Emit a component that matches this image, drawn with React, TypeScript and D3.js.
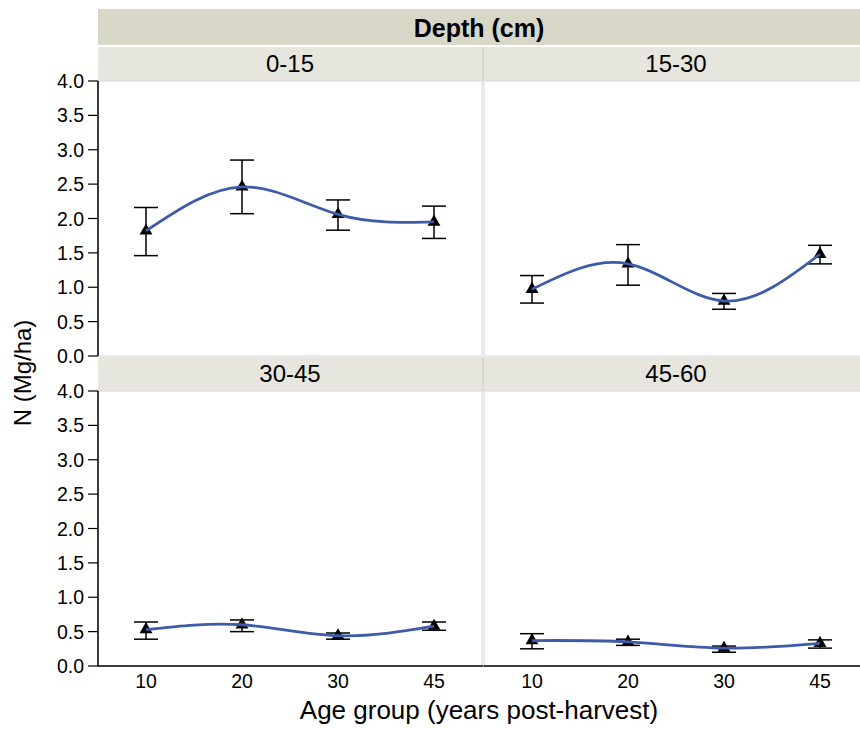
import React from 'react';
import * as d3 from 'd3';

// Age groups (years post-harvest) on the x axis
const ageGroups = ['10', '20', '30', '45'];
// Soil depth layers, one facet each
const depthLayers = ['0-15', '15-30', '30-45', '45-60'];

// Mean soil N (Mg/ha) per depth layer, by age group
const meanN_0_15 = [1.82, 2.46, 2.06, 1.95];
const meanN_15_30 = [0.97, 1.34, 0.8, 1.48];
const meanN_30_45 = [0.53, 0.6, 0.44, 0.58];
const meanN_45_60 = [0.37, 0.35, 0.26, 0.33];

// Lower / upper error bar limits
const lowN_0_15 = [1.46, 2.07, 1.83, 1.71];
const highN_0_15 = [2.16, 2.85, 2.27, 2.18];
const lowN_15_30 = [0.77, 1.03, 0.68, 1.34];
const highN_15_30 = [1.17, 1.62, 0.91, 1.61];
const lowN_30_45 = [0.39, 0.5, 0.39, 0.52];
const highN_30_45 = [0.64, 0.67, 0.48, 0.64];
const lowN_45_60 = [0.25, 0.3, 0.2, 0.26];
const highN_45_60 = [0.47, 0.39, 0.29, 0.38];

const yTicks = [0, 0.5, 1, 1.5, 2, 2.5, 3, 3.5, 4];

const meanSets = [meanN_0_15, meanN_15_30, meanN_30_45, meanN_45_60];
const lowSets = [lowN_0_15, lowN_15_30, lowN_30_45, lowN_45_60];
const highSets = [highN_0_15, highN_15_30, highN_30_45, highN_45_60];

const W = 860;
const H = 729;
const FONT = '"Liberation Sans", Arial, Helvetica, sans-serif';

const axisX = 98;
const colW = 384;
const colGap = 2;
const headerTop = 9;
const headerH = 36;
const stripH = 33;
const rowTops = [47, 357];
const plotH = 275;

const HEADER_FILL = '#d9d7c8';
const STRIP_FILL = '#e7e6de';
const STRIP_DIVIDER = '#d8d8cc';
const FRAME = '#dcdcdc';
const LINE = '#3d5ba8';

function Panel({ index }: { index: number }) {
  const col = index % 2;
  const row = Math.floor(index / 2);
  const x0 = axisX + col * (colW + colGap);
  const stripTop = rowTops[row];
  const plotTop = stripTop + stripH + 1;
  const plotBottom = plotTop + plotH;

  const x = d3.scalePoint<string>().domain(ageGroups).range([x0, x0 + colW]).padding(0.5);
  const y = d3.scaleLinear().domain([0, 4]).range([plotBottom, plotTop]);

  const means = meanSets[index];
  const lows = lowSets[index];
  const highs = highSets[index];
  const pts = ageGroups.map((g, i) => ({ g, m: means[i], lo: lows[i], hi: highs[i] }));

  const line = d3
    .line<{ g: string; m: number }>()
    .x((d) => x(d.g)!)
    .y((d) => y(d.m))
    .curve(d3.curveNatural);

  const tri = d3.symbol().type(d3.symbolTriangle).size(72)();
  const capHalf = 12;

  return (
    <g>
      <text x={x0 + colW / 2} y={stripTop + 25} textAnchor="middle" fontSize={24} fill="#000">
        {depthLayers[index]}
      </text>
      <rect x={x0} y={plotTop} width={colW} height={plotH} fill="#fff" stroke={FRAME} strokeWidth={1.2} />
      {pts.map((d) => (
        <g key={d.g} stroke="#000" strokeWidth={1.5}>
          <line x1={x(d.g)} x2={x(d.g)} y1={y(d.lo)} y2={y(d.hi)} />
          <line x1={x(d.g)! - capHalf} x2={x(d.g)! + capHalf} y1={y(d.lo)} y2={y(d.lo)} />
          <line x1={x(d.g)! - capHalf} x2={x(d.g)! + capHalf} y1={y(d.hi)} y2={y(d.hi)} />
        </g>
      ))}
      {pts.map((d) => (
        <path key={'m' + d.g} d={tri!} transform={`translate(${x(d.g)},${y(d.m)})`} fill="#000" />
      ))}
      <path d={line(pts)!} fill="none" stroke={LINE} strokeWidth={2.8} />
      {col === 0 && (
        <g>
          <line x1={axisX} x2={axisX} y1={plotTop} y2={plotBottom} stroke="#000" strokeWidth={1.5} />
          {yTicks.map((t) => (
            <g key={t}>
              <line x1={axisX - 10} x2={axisX} y1={y(t)} y2={y(t)} stroke="#000" strokeWidth={1.2} />
              <text x={axisX - 14} y={y(t) + 7} textAnchor="end" fontSize={19.5} fill="#000">
                {t.toFixed(1)}
              </text>
            </g>
          ))}
        </g>
      )}
      {row === 1 && (
        <g>
          <line x1={x0} x2={x0 + colW + colGap} y1={plotBottom} y2={plotBottom} stroke="#000" strokeWidth={1.5} />
          {ageGroups.map((g) => (
            <text key={g} x={x(g)} y={plotBottom + 22} textAnchor="middle" fontSize={19.5} fill="#000">
              {g}
            </text>
          ))}
        </g>
      )}
    </g>
  );
}

export default function App() {
  const divX = axisX + colW + colGap / 2;
  return (
    <svg
      width={W}
      height={H}
      viewBox={`0 0 ${W} ${H}`}
      style={{ position: 'absolute', left: 0, top: 0, background: '#fff' }}
      fontFamily={FONT}
    >
      <rect x={0} y={0} width={W} height={H} fill="#fff" />
      <rect x={axisX} y={headerTop} width={W - axisX} height={headerH} fill={HEADER_FILL} />
      <text x={(axisX + W) / 2} y={headerTop + 28} textAnchor="middle" fontSize={25} fontWeight="bold">
        Depth (cm)
      </text>
      {rowTops.map((t) => (
        <g key={t}>
          <rect x={axisX} y={t} width={W - axisX} height={stripH + 1} fill={STRIP_FILL} />
          <line x1={divX} x2={divX} y1={t} y2={t + stripH + 1} stroke={STRIP_DIVIDER} strokeWidth={2} />
        </g>
      ))}
      {depthLayers.map((_, i) => (
        <Panel key={i} index={i} />
      ))}
      <text transform={`translate(31, 373) rotate(-90)`} textAnchor="middle" fontSize={24}>
        N (Mg/ha)
      </text>
      <text x={(axisX + W) / 2} y={719} textAnchor="middle" fontSize={26}>
        Age group (years post-harvest)
      </text>
    </svg>
  );
}
